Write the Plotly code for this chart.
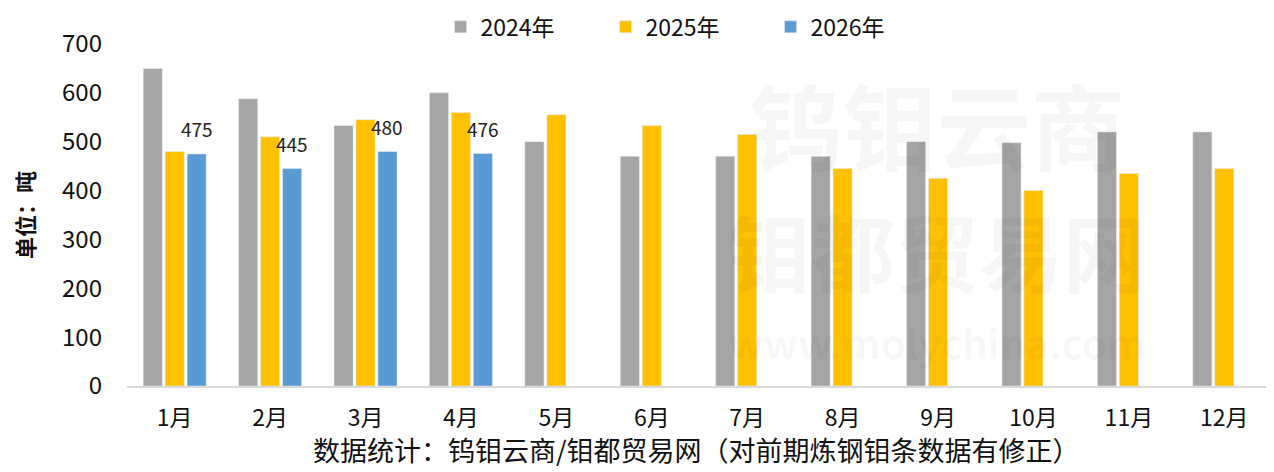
import plotly.graph_objects as go

months = ["1月", "2月", "3月", "4月", "5月", "6月", "7月", "8月", "9月", "10月", "11月", "12月"]
y2024 = [650, 588, 533, 600, 500, 470, 470, 470, 500, 498, 520, 520]
y2025 = [480, 510, 545, 560, 555, 533, 515, 445, 425, 400, 435, 445]
y2026 = [475, 445, 480, 476, None, None, None, None, None, None, None, None]

FONT = "Noto Sans CJK SC"

# page body has an 8px margin; size the figure to fit the 1274x472 window
W, H = 1266, 464
ML, MR, MT, MB = 119, 2, 36, 86
BARGAP = 0.31

fig = go.Figure()
fig.add_trace(go.Bar(name="2024年", x=months, y=y2024, marker_color="#A5A5A5"))
fig.add_trace(go.Bar(name="2025年", x=months, y=y2025, marker_color="#FFC000"))
fig.add_trace(go.Bar(name="2026年", x=months, y=y2026, marker_color="#5B9BD5"))

# data labels above the 2026 bars (third bar of each group)
cat_px = (W - ML - MR) / len(months)
slot_px = cat_px * (1 - BARGAP) / 3
for m, v in zip(months, y2026):
    if v is None:
        continue
    fig.add_annotation(x=m, y=v, xref="x", yref="y", text=str(v), showarrow=False,
                       xshift=slot_px, yshift=25, yanchor="middle",
                       font=dict(size=19, color="#222222", family=FONT))

# faint watermark
wm = dict(color="rgba(0,0,0,0.035)", family=FONT, weight="bold")
fig.add_annotation(text="钨钼云商", xref="paper", yref="paper", x=0.707, y=0.77,
                   xanchor="center", yanchor="middle", showarrow=False,
                   font=dict(size=94, **wm))
fig.add_annotation(text="钼都贸易网", xref="paper", yref="paper", x=0.707, y=0.40,
                   xanchor="center", yanchor="middle", showarrow=False,
                   font=dict(size=84, **wm))
fig.add_annotation(text="www.molychina.com", xref="paper", yref="paper", x=0.707, y=0.13,
                   xanchor="center", yanchor="middle", showarrow=False,
                   font=dict(size=40, **wm))

fig.add_annotation(text="数据统计：钨钼云商/钼都贸易网（对前期炼钢钼条数据有修正）",
                   xref="paper", yref="paper", x=0.497, y=0, yshift=-63, xanchor="center",
                   yanchor="middle", showarrow=False,
                   font=dict(size=27, color="#111111", family=FONT))

fig.update_layout(
    width=W, height=H,
    margin=dict(l=ML, r=MR, t=MT, b=MB, autoexpand=False),
    paper_bgcolor="white", plot_bgcolor="white",
    barmode="group", bargap=BARGAP, bargroupgap=0.13,
    font=dict(family=FONT, color="#111111"),
    legend=dict(orientation="h", x=0.49, xanchor="center", y=1.05, yanchor="middle",
                font=dict(size=23, family=FONT), itemwidth=30, entrywidth=120,
                traceorder="normal"),
    showlegend=True,
)
fig.update_xaxes(showline=True, linecolor="#D9D9D9", linewidth=2, showgrid=False,
                 tickfont=dict(size=23, family=FONT), ticks="", ticklabelstandoff=10,
                 automargin=False)
fig.update_yaxes(range=[0, 700], dtick=100, showgrid=False, zeroline=False, showline=False,
                 tickfont=dict(size=24, family=FONT), ticklabelstandoff=24, automargin=False,
                 title=dict(text="单位：吨", font=dict(size=22, family=FONT, weight="bold"),
                            standoff=31))

fig.write_html("out.html")
